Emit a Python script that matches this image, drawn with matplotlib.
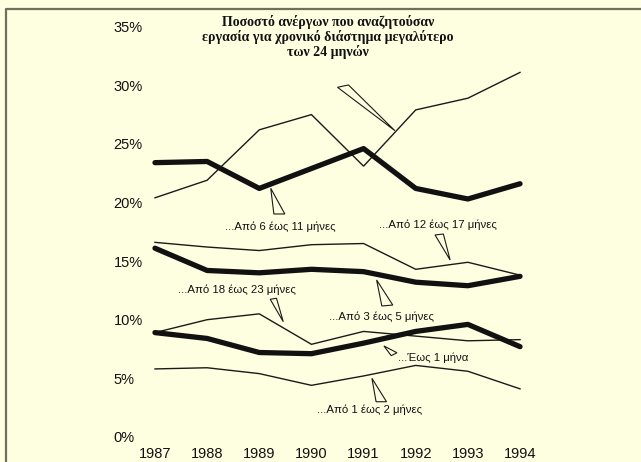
import matplotlib
matplotlib.use("Agg")
import matplotlib.pyplot as plt
from matplotlib.patches import Polygon
from matplotlib.lines import Line2D

# ---------------- data ----------------
years = [1987, 1988, 1989, 1990, 1991, 1992, 1993, 1994]
over_24 = [20.4, 21.9, 26.2, 27.5, 23.1, 27.9, 28.9, 31.1]
m6_11 = [23.4, 23.5, 21.2, 22.9, 24.6, 21.2, 20.3, 21.6]
m12_17 = [16.6, 16.2, 15.9, 16.4, 16.5, 14.3, 14.9, 13.8]
m3_5 = [16.1, 14.2, 14.0, 14.3, 14.1, 13.2, 12.9, 13.7]
m18_23 = [8.9, 10.0, 10.5, 7.9, 9.0, 8.6, 8.2, 8.3]
upto_1 = [8.9, 8.4, 7.2, 7.1, 8.0, 9.0, 9.6, 7.7]
m1_2 = [5.8, 5.9, 5.4, 4.4, 5.2, 6.1, 5.6, 4.1]

yticks = [0, 5, 10, 15, 20, 25, 30, 35]
ytick_labels = ["0%", "5%", "10%", "15%", "20%", "25%", "30%", "35%"]

title_lines = ["Ποσοστό ανέργων που αναζητούσαν",
               "εργασία για χρονικό διάστημα μεγαλύτερο",
               "των 24 μηνών"]

labels = ["...Από 6 έως 11 μήνες", "...Από 12 έως 17 μήνες",
          "...Από 18 έως 23 μήνες", "...Από 3 έως 5 μήνες",
          "...Έως 1 μήνα", "...Από 1 έως 2 μήνες"]
label_pos = [(1989.40, 17.95, "center"), (1992.42, 18.08, "center"),
             (1988.57, 12.53, "center"), (1991.34, 10.26, "center"),
             (1991.66, 6.76, "left"), (1991.12, 2.30, "center")]

# callout wedges (data coordinates)
callouts = [
    [(1990.50, 29.83), (1990.71, 30.03), (1991.60, 26.13)],
    [(1989.22, 21.21), (1989.28, 19.02), (1989.49, 19.02)],
    [(1992.37, 17.23), (1992.53, 17.31), (1992.66, 15.09)],
    [(1989.21, 11.74), (1989.33, 11.83), (1989.46, 9.83)],
    [(1991.25, 13.39), (1991.35, 11.17), (1991.56, 11.25)],
    [(1991.39, 7.76), (1991.64, 7.18), (1991.53, 6.93)],
    [(1991.16, 5.00), (1991.24, 3.00), (1991.44, 3.00)],
]

bg = "#FEFEE1"
W, H = 641, 462
fig = plt.figure(figsize=(W / 100, H / 100), dpi=100, facecolor=bg)

left_px, right_px = 128.9, 546.1
top_px, bot_px = 14.98, 436.9
ax = fig.add_axes([left_px / W, (H - bot_px) / H,
                   (right_px - left_px) / W, (bot_px - top_px) / H])
ax.set_facecolor(bg)
ax.set_xlim(1986.5, 1994.5)
ax.set_ylim(0, 36)
for s in ax.spines.values():
    s.set_visible(False)

thin = dict(color="#1a1a1a", lw=1.0, solid_joinstyle="miter")
thick = dict(color="#111111", lw=3.8, solid_joinstyle="round", solid_capstyle="round")

ax.plot(years, m1_2, **thin)
ax.plot(years, m18_23, **thin)
ax.plot(years, m12_17, **thin)
ax.plot(years, over_24, **thin)
ax.plot(years, upto_1, **thick)
ax.plot(years, m3_5, **thick)
ax.plot(years, m6_11, **thick)

for pts in callouts:
    ax.add_patch(Polygon(pts, closed=True, facecolor=bg, edgecolor="#1a1a1a",
                         lw=0.8, zorder=5))

lab_font = ["Liberation Sans Narrow", "Liberation Sans", "DejaVu Sans"]
for txt, (x, y, ha) in zip(labels, label_pos):
    ax.text(x, y, txt, ha=ha, va="center", fontsize=8.2, family=lab_font,
            color="#111111")

ax.set_xticks(years)
ax.set_xticklabels([str(y) for y in years], fontsize=10.5,
                   family=["Liberation Sans", "DejaVu Sans"], color="#111111")
ax.set_yticks(yticks)
ax.set_yticklabels(ytick_labels, fontsize=10.5,
                   family=["Liberation Sans", "DejaVu Sans"], color="#111111",
                   ha="left")
ax.tick_params(axis="y", length=0, pad=11)
ax.tick_params(axis="x", length=0, pad=7)

for i, line in enumerate(title_lines):
    fig.text(328 / W, 1 - (22 + 15 * i) / H, line, ha="center", va="center",
             fontsize=10, fontweight="bold",
             family=["Liberation Serif", "DejaVu Serif"], color="#111111")

# frame
fig.add_artist(Line2D([5.5 / W, 5.5 / W, 1.0], [0.0, 1 - 8.5 / H, 1 - 8.5 / H],
                      transform=fig.transFigure, color="#6f6f5c", lw=1.6))

fig.savefig("out.png", dpi=100, facecolor=bg)
